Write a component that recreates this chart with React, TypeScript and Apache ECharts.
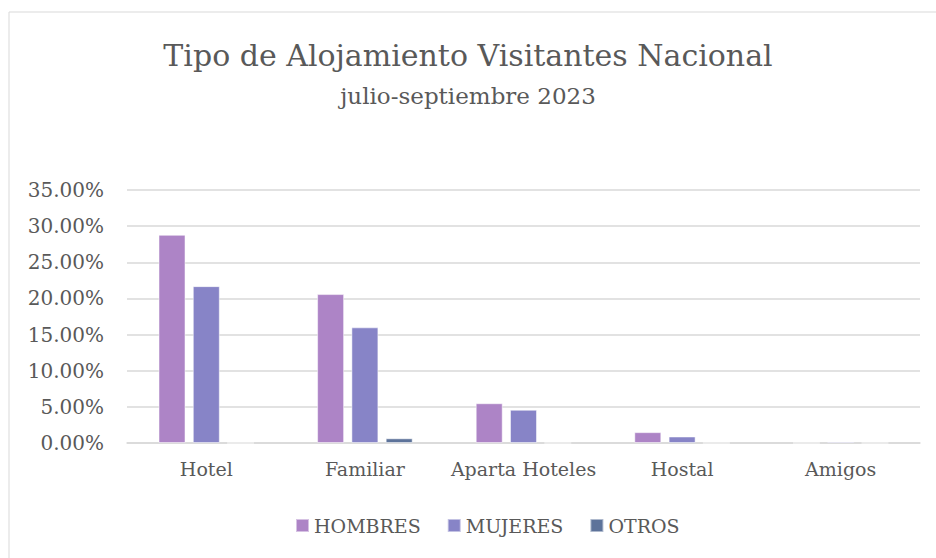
import React, { useEffect, useRef } from "react";
import * as echarts from "echarts";

const categories = ["Hotel", "Familiar", "Aparta Hoteles", "Hostal", "Amigos"];
const hombres = [0.288, 0.206, 0.055, 0.015, 0];
const mujeres = [0.217, 0.16, 0.046, 0.009, 0.002];
const otros = [0, 0.0065, 0, 0, 0];
const seriesNames = ["HOMBRES", "MUJERES", "OTROS"];
const colors = ["#AD84C6", "#8784C7", "#5D739A"];

const FONT = "DejaVu Serif";

export default function App() {
  const ref = useRef<HTMLDivElement>(null);
  useEffect(() => {
    document.body.style.margin = "0";
    const chart = echarts.init(ref.current!, null, { renderer: "svg" });
    const data = [hombres, mujeres, otros];
    chart.setOption({
      animation: false,
      backgroundColor: "#ffffff",
      textStyle: { fontFamily: FONT },
      graphic: [
        {
          type: "rect",
          shape: { x: 9, y: 12, width: 1000, height: 1000 },
          style: { fill: "none", stroke: "#d9d9d9", lineWidth: 1 },
          silent: true,
        },
      ],
      title: {
        text: "Tipo de Alojamiento Visitantes Nacional",
        subtext: "julio-septiembre 2023",
        left: "center",
        top: 35,
        itemGap: 14,
        textStyle: { fontFamily: FONT, fontSize: 30, fontWeight: "normal", color: "#595959" },
        subtextStyle: { fontFamily: FONT, fontSize: 23, color: "#595959" },
      },
      legend: {
        bottom: 18,
        left: 290,
        itemWidth: 13,
        itemHeight: 13,
        itemGap: 26,
        icon: "rect",
        textStyle: { fontFamily: FONT, fontSize: 19, color: "#595959" },
        data: seriesNames,
      },
      grid: { left: 127, right: 16, top: 190, bottom: 115, containLabel: false },
      xAxis: {
        type: "category",
        data: categories,
        axisLine: { lineStyle: { color: "#d9d9d9", width: 1.5 } },
        axisTick: { show: false },
        axisLabel: { fontFamily: FONT, fontSize: 19, color: "#595959", margin: 16, interval: 0 },
      },
      yAxis: {
        type: "value",
        min: 0,
        max: 0.35,
        interval: 0.05,
        axisLine: { show: false },
        axisTick: { show: false },
        splitLine: { lineStyle: { color: "#d9d9d9", width: 1.5 } },
        axisLabel: {
          fontFamily: FONT,
          fontSize: 20,
          color: "#595959",
          margin: 23,
          formatter: (v: number) => (v * 100).toFixed(2) + "%",
        },
      },
      series: seriesNames.map((name, i) => ({
        name,
        type: "bar",
        data: data[i],
        barWidth: 27,
        barGap: "27%",
        itemStyle: { color: colors[i], borderColor: "rgba(255,255,255,0.5)", borderWidth: 1 },
      })),
    });
    return () => chart.dispose();
  }, []);
  return <div ref={ref} style={{ width: 936, height: 558 }} />;
}
